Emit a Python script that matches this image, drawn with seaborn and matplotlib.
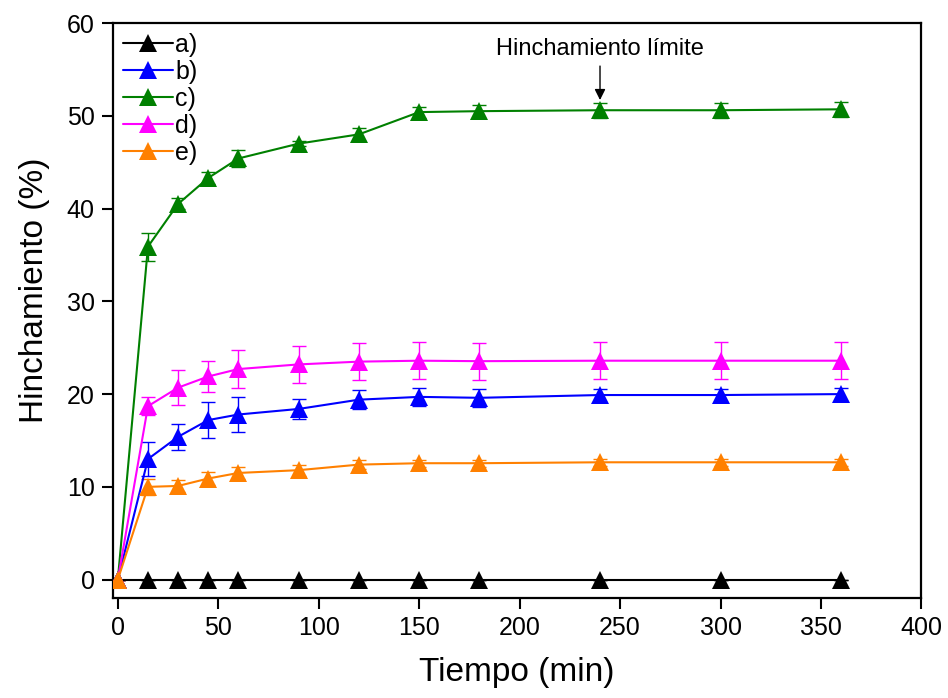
import numpy as np
import pandas as pd
import matplotlib
matplotlib.use("Agg")
import matplotlib.pyplot as plt
import seaborn as sns

tiempo = [0, 15, 30, 45, 60, 90, 120, 150, 180, 240, 300, 360]
series_labels = ["a)", "b)", "c)", "d)", "e)"]
a_vals = [0, 0, 0, 0, 0, 0, 0, 0, 0, 0, 0, 0]
a_err = [0, 0, 0, 0, 0, 0, 0, 0, 0, 0, 0, 0]
b_vals = [0, 13.0, 15.4, 17.2, 17.8, 18.4, 19.4, 19.7, 19.6, 19.9, 19.9, 20.0]
b_err = [0, 1.8, 1.4, 1.9, 1.9, 1.1, 1.0, 1.0, 1.0, 0.7, 0.7, 0.7]
c_vals = [0, 35.9, 40.5, 43.3, 45.4, 47.0, 48.0, 50.4, 50.5, 50.6, 50.6, 50.7]
c_err = [0, 1.5, 0.6, 0.6, 0.9, 0.3, 0.7, 0.6, 0.7, 0.8, 0.8, 0.8]
d_vals = [0, 18.7, 20.7, 21.9, 22.7, 23.2, 23.5, 23.6, 23.55, 23.6, 23.6, 23.6]
d_err = [0, 1.0, 1.9, 1.7, 2.0, 2.0, 2.0, 2.0, 2.0, 2.0, 2.0, 2.0]
e_vals = [0, 10.0, 10.1, 10.9, 11.5, 11.8, 12.4, 12.55, 12.55, 12.65, 12.65, 12.65]
e_err = [0, 0.9, 0.6, 0.7, 0.6, 0.6, 0.5, 0.4, 0.4, 0.4, 0.4, 0.4]
colors = ["#000000", "#0000FF", "#008000", "#FF00FF", "#FF8000"]
annot_text = "Hinchamiento límite"
annot_x = 240
annot_y = 51.7

all_vals = [a_vals, b_vals, c_vals, d_vals, e_vals]
all_errs = [a_err, b_err, c_err, d_err, e_err]

rows = []
for lab, vals in zip(series_labels, all_vals):
    for t, v in zip(tiempo, vals):
        rows.append({"Tiempo": t, "Hinchamiento": v, "Serie": lab})
df = pd.DataFrame(rows)

sns.set_style("ticks")
plt.rcParams["font.family"] = ["Liberation Sans", "DejaVu Sans"]
for k in ["text.color", "axes.labelcolor", "xtick.color", "ytick.color", "axes.edgecolor"]:
    plt.rcParams[k] = "black"

fig = plt.figure(figsize=(9.48, 6.98), dpi=100)
ax = fig.add_axes([0.119, 0.143, 0.853, 0.824])

# error bars
for vals, errs, col in zip(all_vals, all_errs, colors):
    ax.errorbar(tiempo, vals, yerr=errs, fmt="none", ecolor=col, elinewidth=1.0,
                capsize=5, capthick=1.0, zorder=2)

palette = dict(zip(series_labels, colors))
sns.lineplot(data=df, x="Tiempo", y="Hinchamiento", hue="Serie", palette=palette,
             marker="^", markersize=13, markeredgewidth=0, linewidth=1.5,
             ax=ax, legend=True, zorder=3)

ax.set_xlim(-2.5, 400)
ax.set_ylim(-2, 60)
ax.set_xticks(np.arange(0, 401, 50))
ax.set_yticks(np.arange(0, 61, 10))
ax.tick_params(axis="both", direction="out", length=8, width=1.5, labelsize=18, pad=5)
for s in ax.spines.values():
    s.set_linewidth(1.6)
ax.set_xlabel("Tiempo (min)", fontsize=24, labelpad=12)
ax.set_ylabel("Hinchamiento (%)", fontsize=24)
ax.yaxis.set_label_coords(-0.078, 0.536)

handles, labels = ax.get_legend_handles_labels()
leg = ax.legend(handles, labels, loc="upper left", frameon=False, fontsize=18,
                handlelength=2.0, handletextpad=0.1, labelspacing=0.12,
                borderaxespad=0.0, bbox_to_anchor=(0.0, 1.0))

ax.annotate(annot_text, xy=(annot_x, annot_y), xytext=(annot_x, 57.2),
            ha="center", va="center", fontsize=17,
            arrowprops=dict(arrowstyle="-|>", color="black", lw=1.0,
                            shrinkA=2, shrinkB=0, mutation_scale=16))

fig.savefig("out.png", dpi=100)
